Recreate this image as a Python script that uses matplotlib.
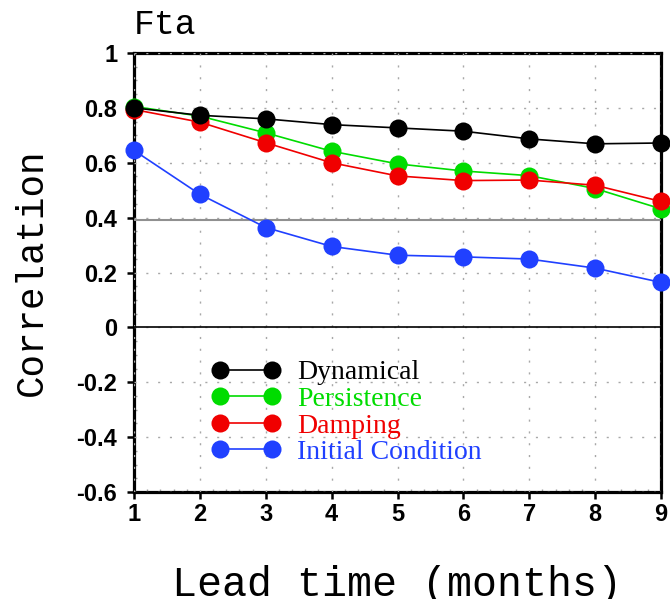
import matplotlib
matplotlib.use("Agg")
import matplotlib.pyplot as plt
import numpy as np

lead = [1, 2, 3, 4, 5, 6, 7, 8, 9]
dynamical = [0.80, 0.773, 0.760, 0.739, 0.727, 0.715, 0.687, 0.669, 0.672]
persistence = [0.805, 0.77, 0.709, 0.642, 0.596, 0.570, 0.553, 0.506, 0.432]
damping = [0.794, 0.748, 0.673, 0.600, 0.552, 0.535, 0.537, 0.518, 0.459]
initial = [0.645, 0.485, 0.364, 0.295, 0.263, 0.257, 0.249, 0.216, 0.164]
significance = 0.39

series_names = ["Dynamical", "Persistence", "Damping", "Initial Condition"]
series_colors = ["#000000", "#00dc00", "#f00000", "#2040ff"]

xticks = [1, 2, 3, 4, 5, 6, 7, 8, 9]
yticks = [-0.6, -0.4, -0.2, 0, 0.2, 0.4, 0.6, 0.8, 1]
ytick_labels = ["-0.6", "-0.4", "-0.2", "0", "0.2", "0.4", "0.6", "0.8", "1"]

W, H = 670, 599
fig = plt.figure(figsize=(W / 100, H / 100), dpi=100)
ax = fig.add_axes([134 / W, 1 - 492 / H, (661 - 134) / W, (492 - 53) / H])
ax.set_xlim(1, 9)
ax.set_ylim(-0.6, 1)

# dotted grid (drawn over spines like the original)
for xv in xticks:
    ax.axvline(xv, color="#a8a8a8", lw=1.0, ls=(0, (1.5, 7)), zorder=3)
for yv in yticks:
    ax.axhline(yv, color="#a8a8a8", lw=1.0, ls=(0, (1.5, 7)), zorder=3)

ax.axhline(0, color="black", lw=1.2, zorder=3.5)
ax.axhline(significance, color="#909090", lw=1.5, zorder=3.5)

all_series = [dynamical, persistence, damping, initial]
zorders = [6, 5.1, 5.2, 5.0]
for i in [3, 1, 2, 0]:
    ax.plot(lead, all_series[i], color=series_colors[i], lw=1.2, marker="o",
            markersize=13, markeredgewidth=0, zorder=zorders[i],
            clip_on=False, label=series_names[i])

for s in ax.spines.values():
    s.set_linewidth(2.3)
    s.set_zorder(2.5)

ax.set_xticks(xticks)
ax.set_xticklabels([str(v) for v in xticks])
ax.set_yticks(yticks)
ax.set_yticklabels(ytick_labels)
ax.tick_params(axis="both", which="major", direction="out", length=5, width=1.8,
               labelsize=17)
ax.tick_params(axis="y", pad=7)
ax.tick_params(axis="x", pad=3)
for lab in ax.get_xticklabels() + ax.get_yticklabels():
    lab.set_fontfamily("Liberation Sans")
    lab.set_fontweight("bold")

ax.set_xticks(np.arange(1, 9.01, 0.2), minor=True)
ax.set_yticks(np.arange(-0.6, 1.001, 0.05), minor=True)
ax.tick_params(axis="both", which="minor", direction="in", length=2, width=1,
               color="#a0a0a0")

ax.set_xlabel("Lead time (months)", fontfamily="Liberation Mono", fontsize=30,
              labelpad=28)
ax.set_ylabel("Correlation", fontfamily="Liberation Mono", fontsize=27,
              labelpad=19)
ax.set_title("Fta", fontfamily="Liberation Mono", fontsize=25, loc="left",
             pad=14)

handles, labels = ax.get_legend_handles_labels()
hmap = dict(zip(labels, handles))
leg = ax.legend([hmap[n] for n in series_names], series_names,
                loc="upper left", bbox_to_anchor=((212 - 134) / 527, (492 - 360) / 439),
                frameon=False, numpoints=2, handlelength=2.45, handletextpad=0.6,
                labelspacing=0.04, borderpad=0, borderaxespad=0,
                prop={"family": "Liberation Serif", "size": 20})
for t, c in zip(leg.get_texts(), series_colors):
    t.set_color(c)

fig.savefig("out.png", dpi=100)
